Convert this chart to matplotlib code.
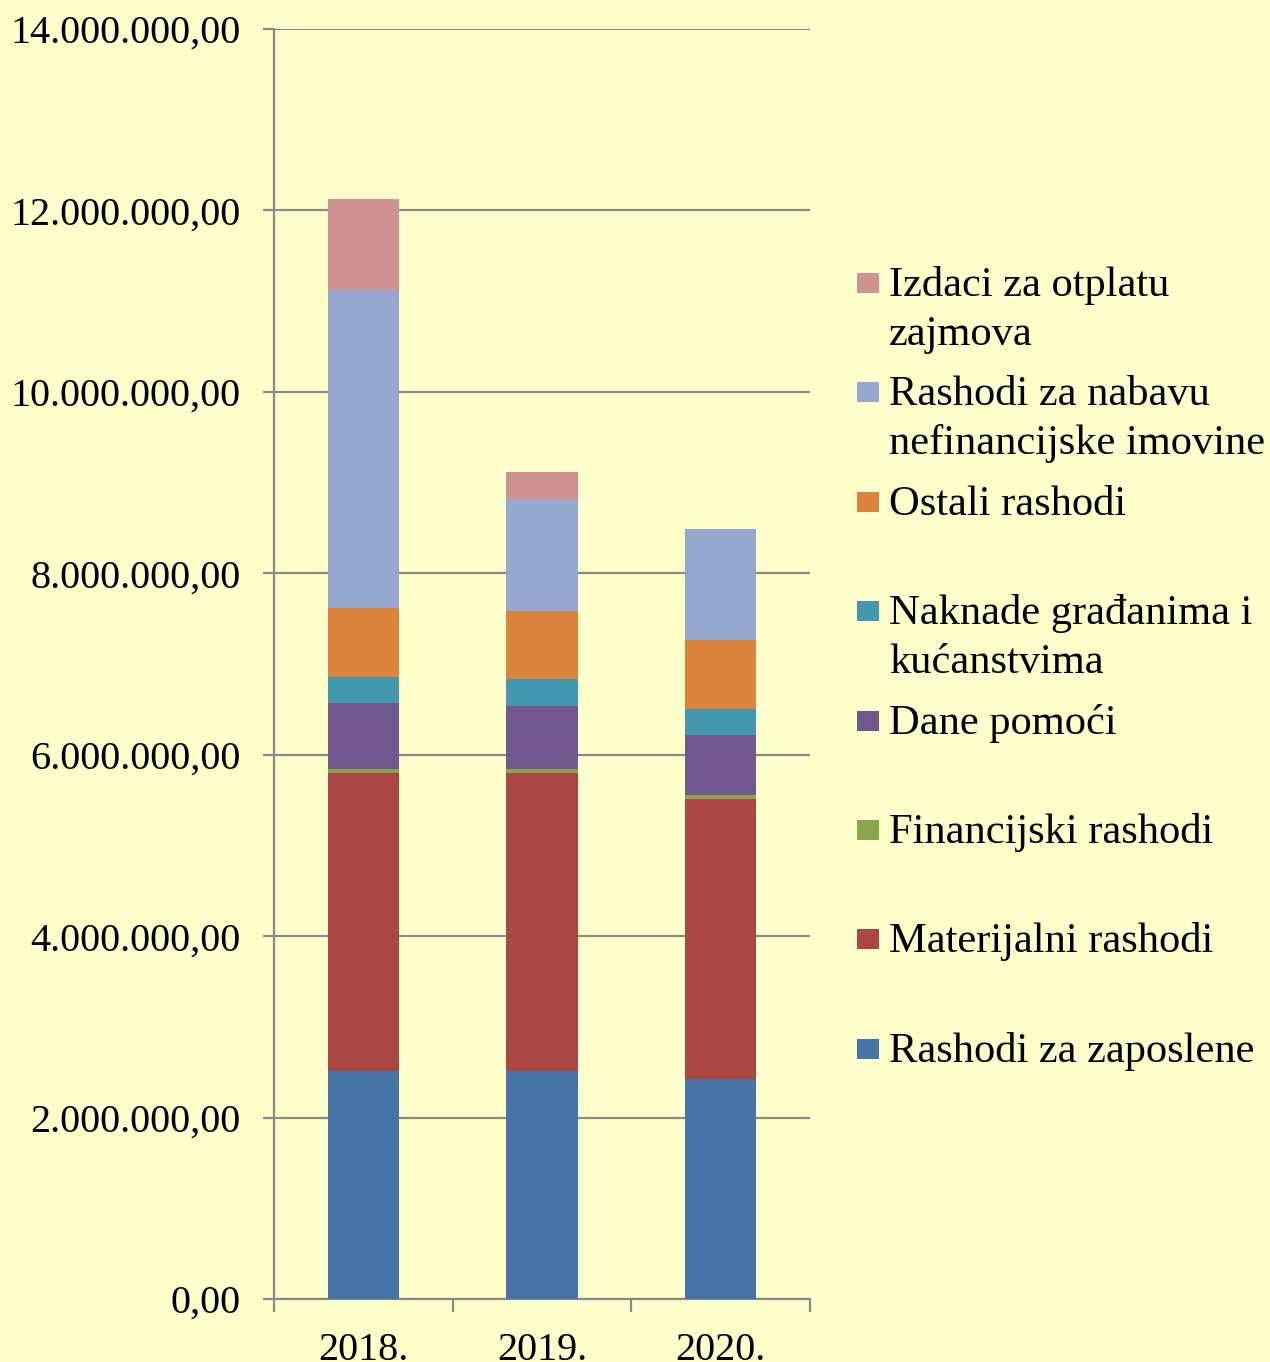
import numpy as np
import matplotlib.pyplot as plt
from matplotlib.patches import Rectangle
from matplotlib.ticker import FuncFormatter, MultipleLocator

years = ["2018.", "2019.", "2020."]

# series from bottom to top of the stack
series_names = [
    "Rashodi za zaposlene",
    "Materijalni rashodi",
    "Financijski rashodi",
    "Dane pomoći",
    "Naknade građanima i\nkućanstvima",
    "Ostali rashodi",
    "Rashodi za nabavu\nnefinancijske imovine",
    "Izdaci za otplatu\nzajmova",
]
colors = ["#4674A8", "#AA4744", "#89A54E", "#71598F", "#4198AF",
          "#DB843D", "#95A9D0", "#D19392"]

zaposleni = [2511000, 2511000, 2423000]
materijalni = [3283000, 3283000, 3084000]
financijski = [48000, 48000, 48000]
pomoci = [724000, 691000, 658000]
naknade = [286000, 297000, 291000]
ostali = [761000, 758000, 756000]
nabava = [3512000, 1232000, 1232000]
zajmovi = [996000, 301000, 0]

values = [zaposleni, materijalni, financijski, pomoci, naknade, ostali, nabava, zajmovi]

bg = "#FFFFCC"
grid_col = "#8A8A8A"
font = ["Liberation Serif", "DejaVu Serif"]
plt.rcParams["font.family"] = font

fig = plt.figure(figsize=(12.7, 13.62), dpi=100, facecolor=bg)
W, H = 1270, 1362
ax = fig.add_axes([274 / W, (H - 1299) / H, (810 - 274) / W, (1299 - 29) / H])
ax.set_facecolor(bg)

x = np.arange(len(years))
bottom = np.zeros(len(years))
for name, vals, c in zip(series_names, values, colors):
    vals = np.array(vals, dtype=float)
    ax.bar(x, vals, 0.4, bottom=bottom, color=c, edgecolor="none", zorder=3)
    bottom += vals

ax.set_xlim(-0.5, 2.5)
ax.set_ylim(0, 14000000)
ax.yaxis.set_major_locator(MultipleLocator(2000000))


def fmt(v, pos):
    s = f"{v:,.2f}"
    return s.replace(",", "X").replace(".", ",").replace("X", ".")


ax.yaxis.set_major_formatter(FuncFormatter(fmt))
ax.grid(axis="y", color=grid_col, linewidth=1.6, zorder=0)
ax.set_axisbelow(True)

for side in ["top", "right"]:
    ax.spines[side].set_visible(False)
for side in ["left", "bottom"]:
    ax.spines[side].set_color(grid_col)
    ax.spines[side].set_linewidth(1.6)

ax.tick_params(axis="y", direction="out", length=8, width=1.6, color=grid_col,
               pad=16, labelsize=29)
ax.set_xticks(x)
ax.set_xticklabels(years)
ax.set_xticks([-0.5, 0.5, 1.5, 2.5], minor=True)
ax.tick_params(axis="x", which="major", length=0, pad=24, labelsize=29)
ax.tick_params(axis="x", which="minor", direction="out", length=9, width=1.6,
               color=grid_col)

# legend, top entry = last series
step = 109.4
for i, k in enumerate(range(len(series_names) - 1, -1, -1)):
    yc = 283 + i * step
    fig.patches.append(Rectangle((857 / W, (H - yc - 10) / H), 22 / W, 20 / H,
                                 transform=fig.transFigure, facecolor=colors[k],
                                 edgecolor="none"))
    for j, line in enumerate(series_names[k].split("\n")):
        fig.text(889 / W, (H - (yc + 13 + j * 49)) / H, line, fontsize=30.6,
                 va="baseline", ha="left", family=font)

fig.savefig("out.png", dpi=100, facecolor=bg)
